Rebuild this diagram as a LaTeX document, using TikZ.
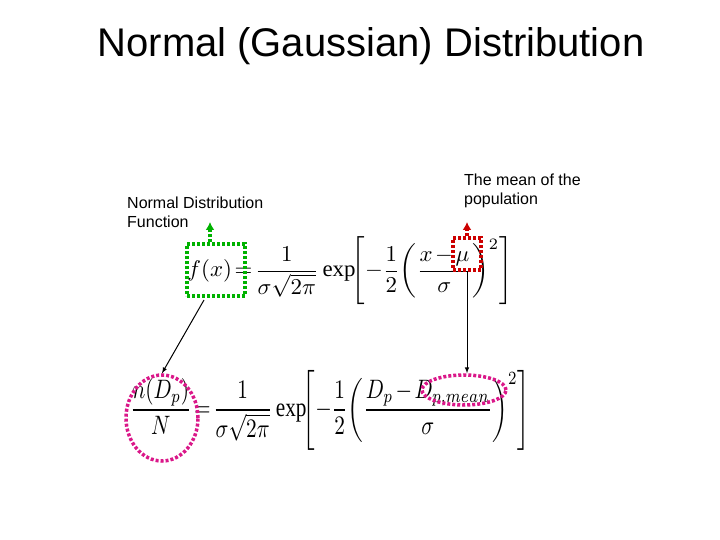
\documentclass[tikz,border=0pt]{standalone}
\usepackage{fontspec}
\setmainfont{Liberation Serif}
\newfontfamily\sans{Liberation Sans}
\usepackage{amsmath}
\usepackage{graphicx}
\usetikzlibrary{shapes.geometric,arrows.meta}
\begin{document}
\begin{tikzpicture}[x=1pt,y=-1pt,
  lbl/.style={font=\sans\fontsize{16}{19}\selectfont,align=left,anchor=north west,inner sep=0},
  eq/.style={inner sep=0},
  dot/.style={line width=3.5pt,dash pattern=on 3pt off 2pt},
  conn/.style={black,line width=1pt,-latex}]
\useasboundingbox (0,0) rectangle (720,540);
\node[font=\sans\fontsize{40}{44}\selectfont] (title) at (371,46) {Normal (Gaussian) Distribution};
\node[lbl] (l1) at (127,197) {Normal Distribution\\Function};
\node[lbl] (l2) at (464,174) {The mean of the\\population};
\node[eq] (e1) at (350,271) {\resizebox*{325pt}{68pt}{\thickmuskip=2mu\medmuskip=2mu$f(x)=\dfrac{1}{\sigma\sqrt{2\pi}}\exp\!\Biggl[-\dfrac{1}{2}\biggl(\dfrac{x-\mu}{\sigma}\biggr)^{2}\Biggr]$}};
\node[eq] (e2) at (330,410) {\resizebox*{400pt}{80pt}{\thickmuskip=2mu\medmuskip=2mu$\dfrac{n(D_p)}{N}=\dfrac{1}{\sigma\sqrt{2\pi}}\exp\!\Biggl[-\dfrac{1}{2}\biggl(\dfrac{D_p-D_{p,mean}}{\sigma}\biggr)^{2}\Biggr]$}};
\node[draw=green!70!black,dot,minimum width=58pt,minimum height=52pt] (gb) at (216,270) {};
\node[draw=red!80!black,dot,minimum width=28pt,minimum height=32pt] (rb) at (467,254) {};
\node[draw=magenta!80!violet,dot,ellipse,minimum width=72pt,minimum height=86pt] (m1) at (162,418) {};
\node[draw=magenta!80!violet,dot,ellipse,minimum width=84pt,minimum height=30pt] (m2) at (464,390) {};
\coordinate (ga) at (210,222);
\coordinate (ra) at (467,222);
\draw[green!70!black,dot,-{Latex[length=8pt,width=9pt]}] (gb.north -| ga) -- (ga);
\draw[red!80!black,dot,-{Latex[length=8pt,width=9pt]}] (rb.north) -- (ra);
\draw[conn] (204,300) -- (m1.north);
\draw[conn] (rb.south) -- (rb.south |- m2.north);
\end{tikzpicture}
\end{document}
